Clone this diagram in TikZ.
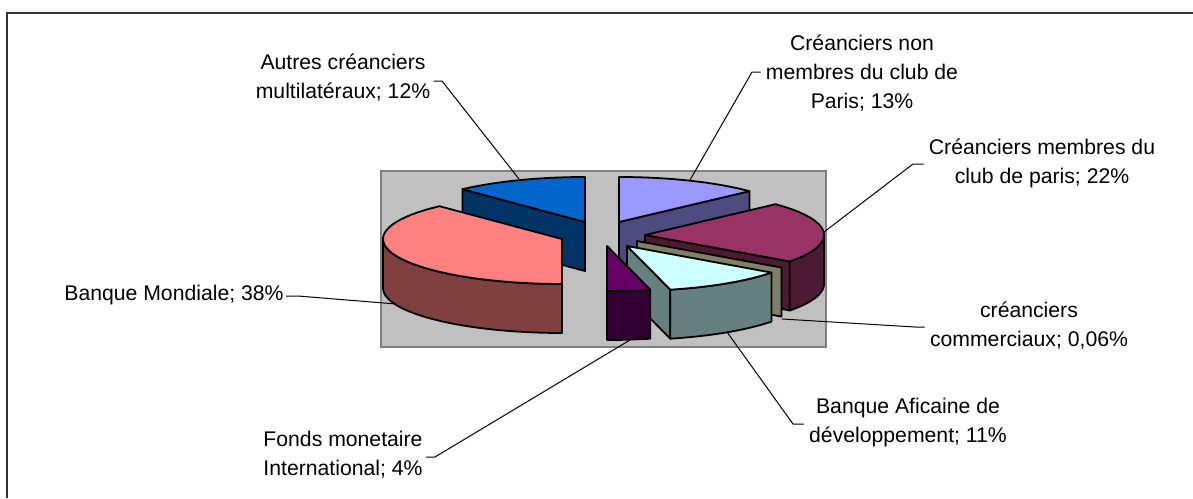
\documentclass[tikz,border=0pt]{standalone}
\usepackage{fontspec}
\setmainfont{Liberation Sans}
\definecolor{frameclr}{HTML}{333333}
\definecolor{plotgray}{HTML}{C0C0C0}
\definecolor{plotborder}{HTML}{808080}
\definecolor{vtop}{HTML}{9999FF}\definecolor{vside}{HTML}{4C4C80}
\definecolor{ptop}{HTML}{993366}\definecolor{pside}{HTML}{4D1A33}
\definecolor{tside}{HTML}{808066}
\definecolor{ctop}{HTML}{CCFFFF}\definecolor{cside}{HTML}{668080}
\definecolor{ftop}{HTML}{660066}\definecolor{fside}{HTML}{330033}
\definecolor{mtop}{HTML}{FF8080}\definecolor{mside}{HTML}{804040}
\definecolor{btop}{HTML}{0066CC}\definecolor{bside}{HTML}{003366}
\def\RX{179}\def\RY{45}\def\HH{49}
% top face: cx, cy, a, b, colour
\newcommand\pieTop[5]{%
  \filldraw[fill=#5,pieline] (#1,#2) -- plot[domain=#3:#4,samples=40] ({#1+\RX*sin(\x)},{#2-\RY*cos(\x)}) -- cycle;}
% cut face: cx, cy, phi, colour
\newcommand\pieCut[4]{%
  \filldraw[fill=#4,pieline] (#1,#2) -- ({#1+\RX*sin(#3)},{#2-\RY*cos(#3)}) -- ({#1+\RX*sin(#3)},{#2+\HH-\RY*cos(#3)}) -- ({#1},{#2+\HH}) -- cycle;}
% outer wall: cx, cy, a, b, colour
\newcommand\pieWall[5]{%
  \filldraw[fill=#5,pieline] plot[domain=#3:#4,samples=30] ({#1+\RX*sin(\x)},{#2-\RY*cos(\x)}) -- plot[domain=#4:#3,samples=30] ({#1+\RX*sin(\x)},{#2+\HH-\RY*cos(\x)}) -- cycle;}
\begin{document}
\begin{tikzpicture}[x=0.5pt,y=-0.5pt,
  pieline/.style={draw=black,line width=0.9pt,line join=round},
  leader/.style={draw=black,line width=0.5pt},
  lbl/.style={font=\fontsize{10.6}{14.5}\selectfont,align=center,inner sep=0pt}]
\useasboundingbox (0,0) rectangle (1193,498);
\fill[white] (0,0) rectangle (1193,498);
\draw[line width=1pt,color=frameclr] (7,498) -- (7,13) -- (1193,13);
\filldraw[fill=plotgray,draw=plotborder,line width=1pt] (381,171) rectangle (826,347);
% Autres creanciers multilateraux
\pieCut{585}{222}{316.8}{bside}
\pieTop{585}{222}{316.8}{360}{btop}
% Creanciers non membres
\pieCut{619}{222}{46.8}{vside}
\pieTop{619}{222}{0}{46.8}{vtop}
% Banque Mondiale
\pieWall{562}{239}{180}{270}{mside}
\pieTop{562}{239}{180}{316.8}{mtop}
% Club de Paris
\pieCut{645}{235}{126}{pside}
\pieWall{645}{235}{90}{126}{pside}
\pieTop{645}{235}{46.8}{126}{ptop}
% creanciers commerciaux
\pieCut{637}{241}{126.2}{tside}
% Banque Africaine
\pieCut{627}{246}{166}{cside}
\pieWall{627}{246}{126.2}{166}{cside}
\pieTop{627}{246}{126.2}{166}{ctop}
% FMI
\pieWall{607}{246}{166}{180}{fside}
\pieTop{607}{246}{166}{180}{ftop}
% labels
\node[lbl] (nm) at (862,73) {Créanciers non\\membres du club de\\Paris; 13\%};
\node[lbl] (cp) at (1042,163) {Créanciers membres du\\club de paris; 22\%};
\node[lbl] (cc) at (1029,326) {créanciers\\commerciaux; 0,06\%};
\node[lbl] (ba) at (908,423) {Banque Aficaine de\\développement; 11\%};
\node[lbl] (fm) at (343,455) {Fonds monetaire\\International; 4\%};
\node[lbl] (bm) at (174,295) {Banque Mondiale; 38\%};
\node[lbl] (au) at (343,78) {Autres créanciers\\multilatéraux; 12\%};
% leader points
\coordinate (pNM) at (690,180); \coordinate (kNM) at (752,72);
\coordinate (pCP) at (824,232); \coordinate (kCP) at (913,164);
\coordinate (pCC) at (782,319); \coordinate (kCC) at (915,327);
\coordinate (pBA) at (727,332); \coordinate (kBA) at (793,424);
\coordinate (pFM) at (630,340); \coordinate (kFM) at (435,457);
\coordinate (pBM) at (396,304); \coordinate (kBM) at (298,296);
\coordinate (pAU) at (519,179); \coordinate (kAU) at (442,81);
\draw[leader,shorten >=2.5pt] (pNM) -- (kNM) -- (kNM -| nm.west);
\draw[leader,shorten >=2.5pt] (pCP) -- (kCP) -- (kCP -| cp.west);
\draw[leader,shorten >=2.5pt] (pCC) -- (kCC) -- (kCC -| cc.west);
\draw[leader,shorten >=2.5pt] (pBA) -- (kBA) -- (kBA -| ba.west);
\draw[leader,shorten <=1.5pt] (kFM -| fm.east) -- (kFM) -- (pFM);
\draw[leader,shorten <=1pt] (kBM -| bm.east) -- (kBM) -- (pBM);
\draw[leader,shorten <=1.5pt] (kAU -| au.east) -- (kAU) -- (pAU);
\end{tikzpicture}
\end{document}
